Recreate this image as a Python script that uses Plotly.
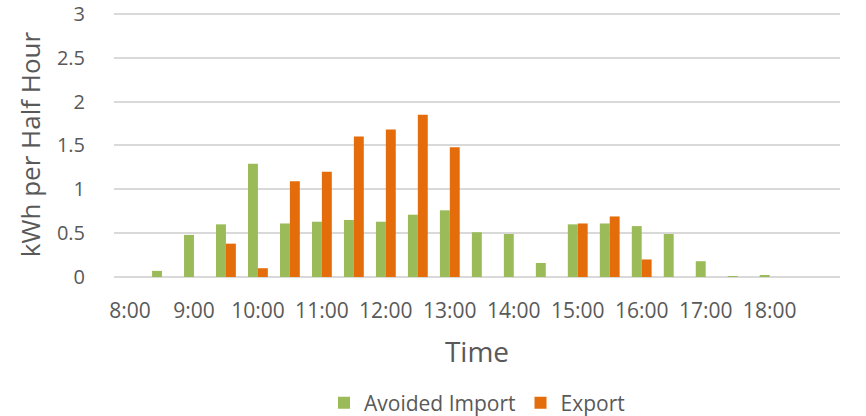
import plotly.graph_objects as go

times = ["8:00", "8:30", "9:00", "9:30", "10:00", "10:30", "11:00", "11:30",
         "12:00", "12:30", "13:00", "13:30", "14:00", "14:30", "15:00", "15:30",
         "16:00", "16:30", "17:00", "17:30", "18:00", "18:30"]
avoided_import = [0.0, 0.07, 0.48, 0.60, 1.29, 0.61, 0.63, 0.65, 0.63, 0.71, 0.76,
                  0.51, 0.49, 0.16, 0.60, 0.61, 0.58, 0.49, 0.18, 0.01, 0.02, 0.0]
export = [0.0, 0.0, 0.0, 0.38, 0.10, 1.09, 1.20, 1.60, 1.68, 1.85, 1.48,
          0.0, 0.0, 0.0, 0.61, 0.69, 0.20, 0.0, 0.0, 0.0, 0.0, 0.0]
hour_ticks = ["8:00", "9:00", "10:00", "11:00", "12:00", "13:00", "14:00",
              "15:00", "16:00", "17:00", "18:00"]
y_ticks = [0, 0.5, 1, 1.5, 2, 2.5, 3]
y_tick_text = ["0", "0.5", "1", "1.5", "2", "2.5", "3"]

GREEN = "#9BBB59"
ORANGE = "#E46C0A"
TEXT = "#595959"
FONT = "Open Sans"

fig = go.Figure()
fig.add_trace(go.Bar(x=times, y=avoided_import, name="Avoided Import",
                     marker=dict(color=GREEN, line=dict(width=0))))
fig.add_trace(go.Bar(x=times, y=export, name="Export",
                     marker=dict(color=ORANGE, line=dict(width=0))))

fig.update_layout(
    width=866, height=416,
    margin=dict(l=114, r=26, t=12, b=139, autoexpand=False),
    paper_bgcolor="white", plot_bgcolor="white",
    barmode="group", bargap=0.38, bargroupgap=0.0,
    font=dict(family=FONT, color=TEXT, size=20),
    showlegend=True,
    legend=dict(orientation="h", x=0.5, xanchor="center",
                yref="container", y=0.031, yanchor="middle",
                font=dict(size=21, color=TEXT), itemwidth=30,
                traceorder="normal"),
    xaxis=dict(type="category", categoryorder="array", categoryarray=times,
               range=[-0.5, 22.2], automargin=False,
               tickmode="array", tickvals=hour_ticks, ticktext=hour_ticks,
               tickfont=dict(size=21, color=TEXT),
               showgrid=False, showline=False, zeroline=False,
               ticks="outside", ticklen=15, tickcolor="rgba(0,0,0,0)",
               title=dict(text="Time", font=dict(size=28, color=TEXT), standoff=19)),
    yaxis=dict(range=[0, 3.02], automargin=False,
               tickmode="array", tickvals=y_ticks, ticktext=y_tick_text,
               tickfont=dict(size=20, color=TEXT), ticklabeloverflow="allow",
               showgrid=True, gridcolor="#D9D9D9", gridwidth=1.5,
               zeroline=True, zerolinecolor="#D9D9D9", zerolinewidth=1.5,
               showline=False,
               ticks="outside", ticklen=24, tickcolor="rgba(0,0,0,0)",
               title=dict(text="kWh per Half Hour", font=dict(size=26, color=TEXT), standoff=8)),
)

fig.write_html("out.html")
